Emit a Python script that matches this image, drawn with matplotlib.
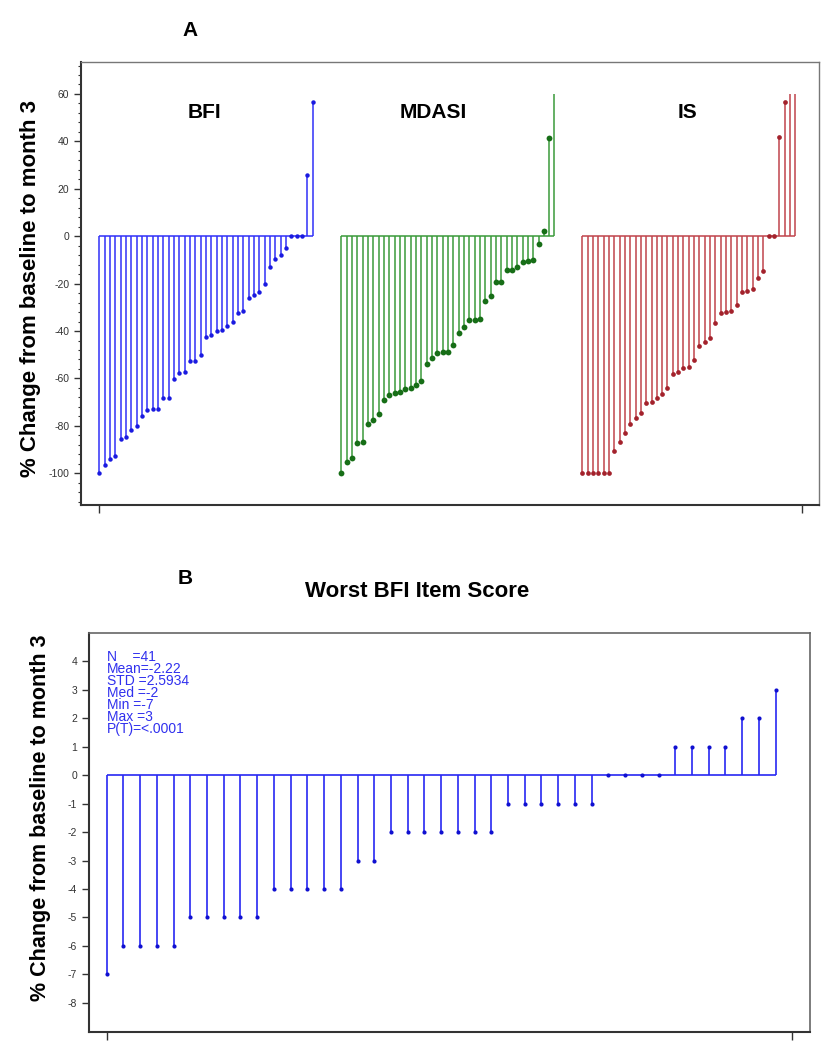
import numpy as np
import matplotlib
matplotlib.use("Agg")
import matplotlib.pyplot as plt

plt.rcParams["font.family"] = ["Liberation Sans", "DejaVu Sans"]
plt.rcParams["axes.unicode_minus"] = False

# ---- panel A: % change from baseline to month 3 (sorted per patient) -------
BFI = [-100, -96.6, -93.8, -92.5, -85.7, -84.8, -81.9, -80.0, -75.9, -73.1,
       -72.7, -72.7, -68.3, -68.3, -60.1, -57.7, -57.3, -52.5, -52.5, -50.1,
       -42.5, -41.5, -39.9, -39.7, -37.7, -36.3, -32.3, -31.7, -26.1, -24.6,
       -23.4, -20.1, -12.8, -9.6, -8.0, -4.8, 0, 0, 0, 25.8, 56.6]
MDASI = [-100, -95.4, -93.6, -87.3, -86.7, -79.2, -77.5, -75.1, -69.2, -66.9,
         -66.3, -65.6, -64.4, -64.2, -62.8, -61.0, -53.8, -51.3, -49.4, -49.0,
         -49.0, -46.1, -40.8, -38.3, -35.2, -35.2, -34.8, -27.3, -25.2, -19.4,
         -19.3, -14.2, -14.1, -13.0, -10.8, -10.3, -10.1, -3.4, 2.1, 41.6,
         100]   # last one off scale (> 60)
IS = [-100, -100, -100, -100, -100, -100, -90.8, -86.9, -83.2, -79.2,
      -76.5, -74.4, -70.5, -69.9, -68.3, -66.7, -64.0, -58.2, -57.1, -55.5,
      -55.0, -52.1, -46.3, -44.5, -43.0, -36.6, -32.4, -31.9, -31.5, -29.2,
      -23.7, -23.1, -22.3, -17.7, -14.8, 0, 0, 41.9, 56.5,
      100, 100]  # last two off scale (> 60)
GROUP_NAMES = ["BFI", "MDASI", "IS"]
CLIP_MAX = 60

# ---- panel B: worst BFI item score change ---------------------------------
WORST = [-7, -6, -6, -6, -6, -5, -5, -5, -5, -5, -4, -4, -4, -4, -4, -3, -3,
         -2, -2, -2, -2, -2, -2, -2, -1, -1, -1, -1, -1, -1,
         0, 0, 0, 0, 1, 1, 1, 1, 2, 2, 3]
STATS = ["N    =41", "Mean=-2.22", "STD =2.5934", "Med =-2",
         "Min =-7", "Max =3", "P(T)=<.0001"]

YLABEL = "% Change from baseline to month 3"

fig = plt.figure(figsize=(8.3, 10.5), dpi=100)

# ---------------- panel A ----------------
axA = fig.add_axes([0.0976, 0.519, 0.889, 0.422])
styles = [
    dict(line="#3030f8", dot="#1a1ae0", ms=3.2, off=0.0, lx=19.8, ly=52),
    dict(line="#3a9a3a", dot="#176e17", ms=4.2, off=45.4, lx=62.6, ly=52),
    dict(line="#c0444c", dot="#a3222c", ms=3.4, off=90.6, lx=110.4, ly=52),
]
for name, vals, st in zip(GROUP_NAMES, [BFI, MDASI, IS], styles):
    v = np.asarray(vals, dtype=float)
    x = st["off"] + np.arange(len(v))
    shown = np.minimum(v, CLIP_MAX)
    axA.hlines(0, x[0], x[-1], color=st["line"], lw=1.1)
    axA.vlines(x, 0, shown, color=st["line"], lw=1.1)
    keep = v <= CLIP_MAX
    axA.plot(x[keep], v[keep], "o", color=st["dot"], ms=st["ms"], mew=0)
    axA.text(st["lx"], st["ly"], name, ha="center", va="center",
             fontsize=15, fontweight="bold")

axA.set_xlim(-3.43, 135.0)
axA.set_ylim(-113.4, 73.5)
axA.set_xticks([0, 131.8])
axA.set_xticklabels([])
axA.set_yticks(np.arange(-100, 61, 20))
axA.set_yticks(np.arange(-112, 73, 4), minor=True)
axA.tick_params(axis="y", which="major", length=5, width=1, labelsize=7.5,
                labelcolor="#333333", color="#333333")
axA.tick_params(axis="y", which="minor", length=2.5, width=0.8,
                color="#333333")
axA.tick_params(axis="x", length=6, width=1, color="#333333")
for side in ["left", "bottom"]:
    axA.spines[side].set_linewidth(1.5)
    axA.spines[side].set_color("#333333")
for side in ["top", "right"]:
    axA.spines[side].set_linewidth(1.0)
    axA.spines[side].set_color("#777777")

fig.text(0.229, 0.971, "A", ha="center", va="center", fontsize=15,
         fontweight="bold")
fig.text(0.037, 0.725, YLABEL, rotation=90, ha="center", va="center",
         fontsize=16, fontweight="bold")

# ---------------- panel B ----------------
axB = fig.add_axes([0.1072, 0.0171, 0.8687, 0.380])
w = np.asarray(WORST, dtype=float)
xb = np.arange(len(w))
blue = "#2828f2"
axB.hlines(0, xb[0], xb[-1], color=blue, lw=1.2)
axB.vlines(xb, 0, w, color=blue, lw=1.2)
axB.plot(xb, w, "o", color="#1010d0", ms=3.0, mew=0)
axB.set_xlim(-1.06, 42.06)
axB.set_ylim(-9.03, 5.0)
axB.set_xticks([0, 41])
axB.set_xticklabels([])
axB.set_yticks(np.arange(-8, 5, 1))
axB.tick_params(axis="y", length=5, width=1, labelsize=7.5,
                labelcolor="#333333", color="#333333")
axB.tick_params(axis="x", length=6, width=1, color="#333333")
for side in ["left", "bottom"]:
    axB.spines[side].set_linewidth(1.5)
    axB.spines[side].set_color("#333333")
for side in ["top", "right"]:
    axB.spines[side].set_linewidth(1.2)
    axB.spines[side].set_color("#666666")

# SAS-style stats box: one line per statistic, tightly stacked
for i, line in enumerate(STATS):
    axB.text(0.025, 0.94 - i * 0.0302, line, transform=axB.transAxes,
             ha="left", va="center", fontsize=10, color="#3030ee")

fig.text(0.503, 0.437, "Worst BFI Item Score", ha="center", va="center",
         fontsize=16, fontweight="bold")
fig.text(0.223, 0.449, "B", ha="center", va="center", fontsize=15,
         fontweight="bold")
fig.text(0.049, 0.221, YLABEL, rotation=90, ha="center", va="center",
         fontsize=15.5, fontweight="bold")

fig.savefig("out.png", dpi=100)
